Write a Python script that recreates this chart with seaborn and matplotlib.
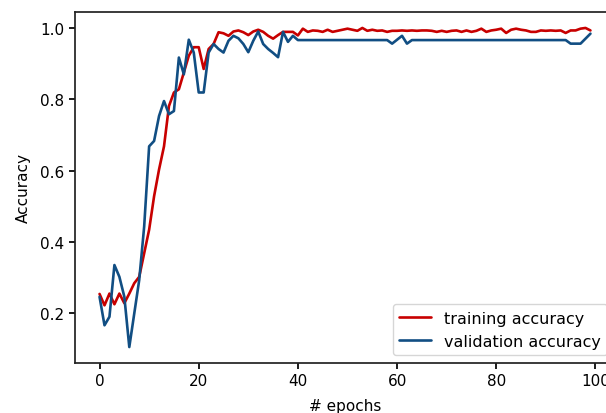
import matplotlib
matplotlib.use("Agg")
import matplotlib.pyplot as plt
import pandas as pd
import seaborn as sns

epochs = list(range(100))

train_acc = [
    0.254, 0.222, 0.255, 0.225, 0.255, 0.228, 0.255, 0.284, 0.302, 0.368,
    0.434, 0.528, 0.603, 0.668, 0.781, 0.819, 0.828, 0.875, 0.922, 0.946,
    0.946, 0.885, 0.941, 0.955, 0.988, 0.985, 0.978, 0.990, 0.993, 0.988,
    0.980, 0.990, 0.995, 0.989, 0.978, 0.970, 0.980, 0.989, 0.989, 0.989,
    0.979, 0.998, 0.989, 0.993, 0.992, 0.989, 0.995, 0.989, 0.992, 0.995,
    0.998, 0.995, 0.992, 1.000, 0.992, 0.995, 0.992, 0.993, 0.989, 0.992,
    0.992, 0.993, 0.992, 0.993, 0.992, 0.993, 0.993, 0.992, 0.989, 0.992,
    0.989, 0.992, 0.993, 0.989, 0.993, 0.989, 0.992, 0.998, 0.989, 0.993,
    0.995, 0.998, 0.986, 0.995, 0.998, 0.995, 0.993, 0.989, 0.989, 0.993,
    0.992, 0.993, 0.992, 0.993, 0.986, 0.993, 0.993, 0.998, 1.000, 0.993,
]

val_acc = [
    0.246, 0.166, 0.190, 0.335, 0.302, 0.246, 0.105, 0.199, 0.293, 0.443,
    0.668, 0.683, 0.753, 0.795, 0.758, 0.767, 0.917, 0.870, 0.967, 0.931,
    0.819, 0.819, 0.931, 0.955, 0.941, 0.931, 0.964, 0.978, 0.971, 0.955,
    0.932, 0.964, 0.990, 0.955, 0.941, 0.930, 0.918, 0.989, 0.961, 0.978,
    0.966, 0.966, 0.966, 0.966, 0.966, 0.966, 0.966, 0.966, 0.966, 0.966,
    0.966, 0.966, 0.966, 0.966, 0.966, 0.966, 0.966, 0.966, 0.966, 0.956,
    0.967, 0.978, 0.956, 0.966, 0.966, 0.966, 0.966, 0.966, 0.966, 0.966,
    0.966, 0.966, 0.966, 0.966, 0.966, 0.966, 0.966, 0.966, 0.966, 0.966,
    0.966, 0.966, 0.966, 0.966, 0.966, 0.966, 0.966, 0.966, 0.966, 0.966,
    0.966, 0.966, 0.966, 0.966, 0.966, 0.956, 0.956, 0.956, 0.970, 0.984,
]

series_names = ["training accuracy", "validation accuracy"]
colors = {"training accuracy": "#c80000", "validation accuracy": "#114e83"}


def main():
    sns.set_theme(context="notebook", style="ticks",
                  rc={"xtick.major.size": 4, "ytick.major.size": 4,
                      "axes.labelsize": 11,
                      "text.color": "black", "xtick.color": "black",
                      "ytick.color": "black", "axes.labelcolor": "black",
                      "axes.edgecolor": "#222222"})

    df = pd.DataFrame({
        "epoch": epochs * 2,
        "acc": train_acc + val_acc,
        "series": [series_names[0]] * len(epochs)
        + [series_names[1]] * len(epochs),
    })

    fig = plt.figure(figsize=(6.06, 4.14), dpi=100)
    # right spine sits just off the canvas, like the cropped original
    ax = fig.add_axes([75 / 606, 50 / 414, 540 / 606, 351 / 414])

    sns.lineplot(data=df, x="epoch", y="acc", hue="series",
                 palette=colors, linewidth=1.9, ax=ax)

    ax.set_xticks([0, 20, 40, 60, 80, 100])
    ax.set_yticks([0.2, 0.4, 0.6, 0.8, 1.0])
    ax.set_xlabel("# epochs", labelpad=7)
    ax.set_ylabel("Accuracy", labelpad=7)
    sns.move_legend(ax, "lower right", title=None, frameon=True,
                    fontsize=11.5)

    fig.savefig("out.png", dpi=100)


if __name__ == "__main__":
    main()
